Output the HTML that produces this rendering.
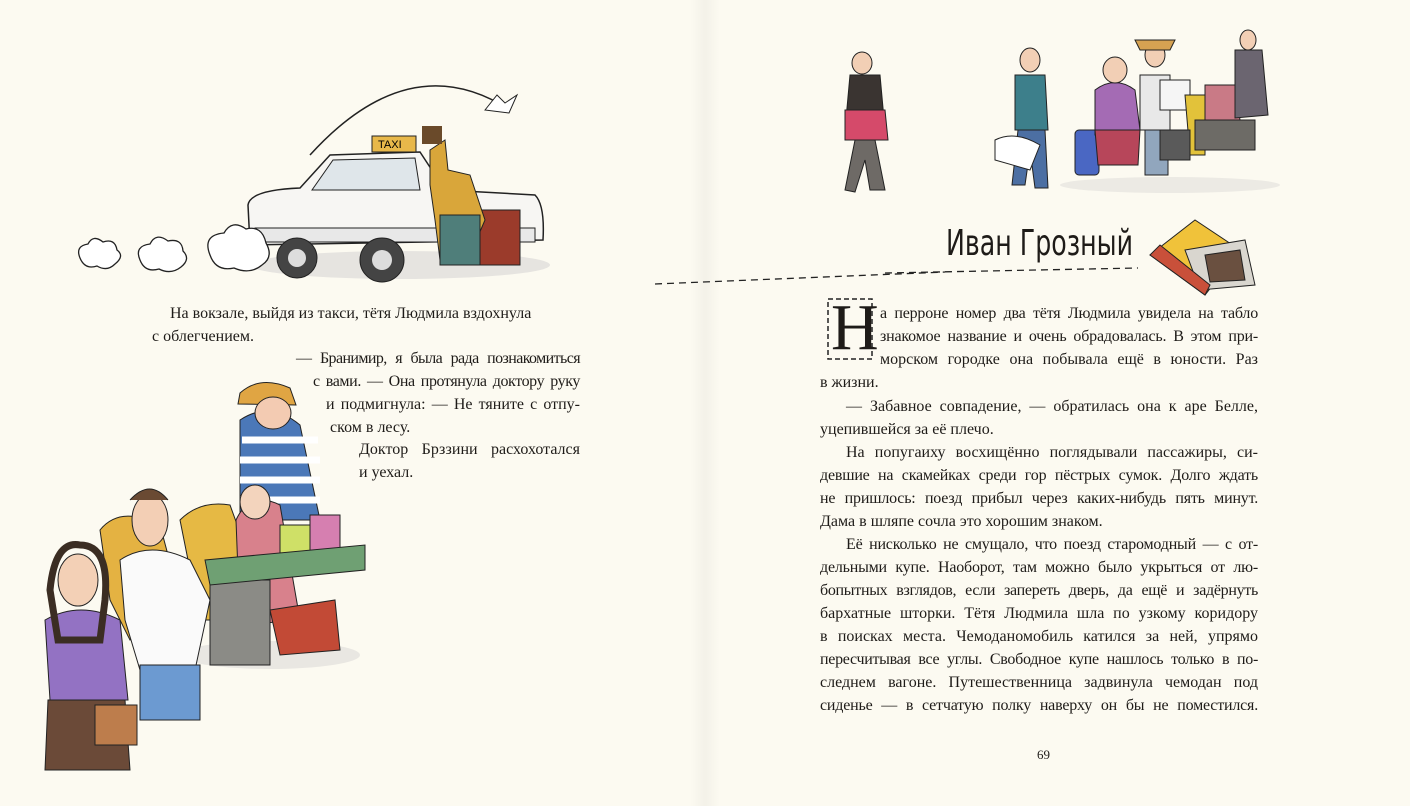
<!DOCTYPE html>
<html><head><meta charset="utf-8"><style>
html,body{margin:0;padding:0}
body{width:1410px;height:806px;background:#fcfaf1;position:relative;overflow:hidden;font-family:"Liberation Serif",serif;color:#1e1b18}
.l{position:absolute;font-size:16px;line-height:20px;white-space:nowrap}
.j{text-align:justify;text-align-last:justify;white-space:normal}
svg{position:absolute;left:0;top:0}
</style></head><body>
<div style="position:absolute;left:690px;top:0;width:30px;height:806px;background:linear-gradient(90deg,rgba(0,0,0,0),rgba(0,0,0,0.035),rgba(0,0,0,0))"></div>
<svg width="1410" height="806" viewBox="0 0 1410 806">
 <path d="M310 155 Q410 45 510 110" fill="none" stroke="#222" stroke-width="1.5"/>
 <path d="M485 110 l12 -15 l8 8 l12 -8 l-8 18 z" fill="#fff" stroke="#222"/>
 <ellipse cx="400" cy="265" rx="150" ry="14" fill="#e6e4e0"/>
 <path d="M248 205 Q250 190 300 188 L330 155 L420 152 L445 190 L535 195 Q545 205 543 240 L250 245 Z" fill="#f7f6f3" stroke="#222" stroke-width="1.5"/>
 <path d="M333 160 L415 158 L420 190 L312 190 Z" fill="#dfe6ea" stroke="#222"/>
 <rect x="372" y="136" width="44" height="16" fill="#e8b84a" stroke="#222"/>
 <text x="378" y="148" font-size="11" font-family="Liberation Sans">TAXI</text>
 <rect x="255" y="228" width="280" height="14" fill="#e8e8e8" stroke="#222"/>
 <circle cx="297" cy="258" r="20" fill="#444" stroke="#222"/><circle cx="297" cy="258" r="9" fill="#ddd"/>
 <circle cx="382" cy="260" r="22" fill="#444" stroke="#222"/><circle cx="382" cy="260" r="10" fill="#ddd"/>
 <rect x="470" y="210" width="50" height="55" fill="#9b3b2b" stroke="#222"/>
 <path d="M430 150 L445 140 L448 170 L470 175 L485 220 L470 255 L440 260 L435 220 L430 185 Z" fill="#d9a63a" stroke="#222"/>
 <rect x="440" y="215" width="40" height="50" fill="#4f7e7a" stroke="#222"/>
 <rect x="422" y="126" width="20" height="18" fill="#6a4a2a"/>
 <g fill="#fff" stroke="#222" stroke-width="1.3">
 <path d="M80 258 q-5 -12 8 -14 q5 -10 15 -2 q12 -4 14 8 q8 6 -2 14 q-8 8 -18 2 q-12 4 -17 -8z"/>
 <path d="M140 260 q-6 -14 10 -16 q6 -12 18 -3 q14 -3 15 10 q8 8 -2 16 q-10 8 -22 2 q-14 4 -19 -9z"/>
 <path d="M210 255 q-8 -20 14 -22 q8 -14 22 -4 q16 -4 20 14 q8 14 -4 22 q-12 10 -28 3 q-18 4 -24 -13z"/>
 </g>
 <ellipse cx="270" cy="655" rx="90" ry="14" fill="#e9e7e2"/>
 <path d="M180 520 Q200 500 230 505 L250 560 L240 620 L200 620 Z" fill="#e6b944" stroke="#222"/>
 <path d="M240 420 Q270 400 300 425 L320 520 L240 520 Z" fill="#4b78b8" stroke="#222"/>
 <path d="M242 440 h76 M240 460 h80 M240 480 h80 M240 500 h80" stroke="#fff" stroke-width="7"/>
 <path d="M240 393 Q260 375 290 388 L296 405 L238 404 Z" fill="#e0a543" stroke="#222"/>
 <ellipse cx="273" cy="413" rx="18" ry="16" fill="#f3cbb2" stroke="#222"/>
 <path d="M236 520 Q250 490 280 505 L300 620 L240 625 Z" fill="#d8818c" stroke="#222"/>
 <ellipse cx="255" cy="502" rx="15" ry="17" fill="#f3d4bd" stroke="#222"/>
 <rect x="280" y="525" width="35" height="45" fill="#cfe067" stroke="#222"/>
 <rect x="310" y="515" width="30" height="45" fill="#d67fb0" stroke="#222"/>
 <rect x="210" y="580" width="60" height="85" fill="#8b8b86" stroke="#222"/>
 <path d="M270 610 L335 600 L340 650 L280 655 Z" fill="#c24a36" stroke="#222"/>
 <path d="M205 560 L365 545 L365 570 L210 585 Z" fill="#6fa073" stroke="#222"/>
 <path d="M100 530 Q120 505 160 525 L180 600 L130 640 L110 600 Z" fill="#e4b242" stroke="#222"/>
 <path d="M120 560 Q150 540 190 560 L210 600 L195 670 L140 670 L125 620 Z" fill="#fafafa" stroke="#222"/>
 <rect x="140" y="665" width="60" height="55" fill="#6c9ad1" stroke="#222"/>
 <ellipse cx="150" cy="520" rx="18" ry="26" fill="#f3cfb5" stroke="#222"/>
 <path d="M130 500 Q150 478 168 500" fill="#6a4a33" stroke="#222"/>
 <path d="M45 620 Q80 600 120 620 L128 700 L50 700 Z" fill="#9372c3" stroke="#222"/>
 <path d="M48 700 L125 700 L130 770 L45 770 Z" fill="#6b4a38" stroke="#222"/>
 <ellipse cx="78" cy="580" rx="20" ry="26" fill="#f3d0b6" stroke="#222"/>
 <path d="M50 590 Q55 540 80 545 Q110 545 105 600 L100 640 L58 640 Z" fill="none" stroke="#3b2d23" stroke-width="7"/>
 <rect x="95" y="705" width="42" height="40" fill="#bd7d4c" stroke="#222"/>
 <g stroke="#222">
 <path d="M850 75 L880 75 L885 130 L845 130 Z" fill="#3a3431"/>
 <path d="M845 110 L885 110 L888 140 L845 140 Z" fill="#d54a6a"/>
 <path d="M855 140 L875 140 L885 190 L870 190 L865 160 L855 192 L845 190 Z" fill="#6e6a66"/>
 <ellipse cx="862" cy="63" rx="10" ry="11" fill="#f2cfb5"/>
 <path d="M1015 75 L1045 75 L1048 130 L1015 130 Z" fill="#3d7f8b"/>
 <path d="M1018 130 L1045 130 L1048 188 L1035 188 L1030 150 L1025 185 L1012 185 Z" fill="#4c6fa3"/>
 <ellipse cx="1030" cy="60" rx="10" ry="12" fill="#f2cfb5"/>
 <path d="M995 140 Q1015 130 1040 145 L1030 170 L995 160 Z" fill="#fff"/>
 <rect x="1075" y="130" width="24" height="45" rx="4" fill="#4a67c3"/>
 <path d="M1095 90 Q1115 75 1135 90 L1140 130 L1095 135 Z" fill="#a46bb4"/>
 <path d="M1095 130 L1140 130 L1138 165 L1098 165 Z" fill="#b7465a"/>
 <ellipse cx="1115" cy="70" rx="12" ry="13" fill="#f2cfb5"/>
 <path d="M1140 75 L1170 75 L1170 130 L1140 130 Z" fill="#e8e8e8"/>
 <path d="M1145 130 L1168 130 L1168 175 L1145 175 Z" fill="#91a6bd"/>
 <ellipse cx="1155" cy="55" rx="10" ry="12" fill="#f2cfb5"/>
 <path d="M1135 40 L1175 40 L1170 50 L1140 50 Z" fill="#d6a252"/>
 <rect x="1160" y="80" width="30" height="30" fill="#f5f5f5"/>
 <path d="M1185 95 L1205 95 L1205 155 L1190 155 Z" fill="#e2c23a"/>
 <path d="M1205 85 L1235 85 L1240 120 L1205 125 Z" fill="#c97a86"/>
 <rect x="1195" y="120" width="60" height="30" fill="#6d6b66"/>
 <path d="M1235 50 L1262 50 L1268 115 L1235 118 Z" fill="#6b6570"/>
 <ellipse cx="1248" cy="40" rx="8" ry="10" fill="#f2cfb5"/>
 <rect x="1160" y="130" width="30" height="30" fill="#5a5a5a"/>
 </g>
 <ellipse cx="1170" cy="185" rx="110" ry="8" fill="#eceae4"/>
 <g stroke="#222">
 <path d="M1150 255 L1195 220 L1240 250 L1205 295 Z" fill="#f0c23a"/>
 <path d="M1185 250 L1245 240 L1255 285 L1200 290 Z" fill="#d9d6cf"/>
 <path d="M1205 255 L1240 250 L1245 280 L1210 282 Z" fill="#6a5040"/>
 <path d="M1150 255 L1160 245 L1210 285 L1205 295 Z" fill="#c9503a"/>
 </g>
 <path d="M655 284 L945 272" stroke="#222" stroke-width="1.3" stroke-dasharray="7 5" fill="none"/>
 <path d="M885 273 L1138 268" stroke="#222" stroke-width="1.3" stroke-dasharray="7 5" fill="none"/>
 <rect x="828" y="299" width="44" height="60" fill="none" stroke="#222" stroke-width="1.5" stroke-dasharray="5 3"/>
</svg>
<div class="l" style="left:946px;top:222px;font-size:36px;line-height:44px;font-family:'DejaVu Sans Condensed','Liberation Sans Narrow',sans-serif;transform:scaleX(0.78);transform-origin:left">Иван Грозный</div>
<div class="l" style="left:831px;top:294px;font-size:66px;line-height:68px">Н</div>

<div class="l" style="left:170px;top:304px">На вокзале, выйдя из такси, тётя Людмила вздохнула</div>
<div class="l" style="left:152px;top:327px">с облегчением.</div>
<div class="l j" style="left:296px;top:349px;width:284px;letter-spacing:-0.6px;word-spacing:-1px">—&nbsp;Бранимир, я была рада познакомиться</div>
<div class="l j" style="left:313px;top:372px;width:267px;letter-spacing:-0.4px">с вами. —&nbsp;Она протянула доктору руку</div>
<div class="l j" style="left:326px;top:395px;width:254px">и подмигнула: —&nbsp;Не тяните с отпу-</div>
<div class="l" style="left:330px;top:418px">ском в лесу.</div>
<div class="l j" style="left:359px;top:440px;width:221px">Доктор Брззини расхохотался</div>
<div class="l" style="left:359px;top:463px">и уехал.</div>

<div class="l j" style="left:880px;top:304px;width:378px;letter-spacing:-0.2px">а перроне номер два тётя Людмила увидела на табло</div>
<div class="l j" style="left:880px;top:327px;width:378px;letter-spacing:-0.2px">знакомое название и очень обрадовалась. В этом при-</div>
<div class="l j" style="left:880px;top:350px;width:378px">морском городке она побывала ещё в юности. Раз</div>
<div class="l" style="left:820px;top:373px">в жизни.</div>
<div class="l j" style="left:846px;top:397px;width:412px">— Забавное совпадение, — обратилась она к аре Белле,</div>
<div class="l" style="left:820px;top:420px">уцепившейся за её плечо.</div>
<div class="l j" style="left:846px;top:443px;width:412px">На попугаиху восхищённо поглядывали пассажиры, си-</div>
<div class="l j" style="left:820px;top:466px;width:438px;letter-spacing:-0.2px">девшие на скамейках среди гор пёстрых сумок. Долго ждать</div>
<div class="l j" style="left:820px;top:489px;width:438px;letter-spacing:-0.2px">не пришлось: поезд прибыл через каких-нибудь пять минут.</div>
<div class="l" style="left:820px;top:512px">Дама в шляпе сочла это хорошим знаком.</div>
<div class="l j" style="left:846px;top:535px;width:412px;letter-spacing:-0.2px">Её нисколько не смущало, что поезд старомодный — с от-</div>
<div class="l j" style="left:820px;top:558px;width:438px;letter-spacing:-0.2px">дельными купе. Наоборот, там можно было укрыться от лю-</div>
<div class="l j" style="left:820px;top:581px;width:438px;letter-spacing:-0.3px">бопытных взглядов, если запереть дверь, да ещё и задёрнуть</div>
<div class="l j" style="left:820px;top:604px;width:438px">бархатные шторки. Тётя Людмила шла по узкому коридору</div>
<div class="l j" style="left:820px;top:627px;width:438px">в поисках места. Чемоданомобиль катился за ней, упрямо</div>
<div class="l j" style="left:820px;top:650px;width:438px;letter-spacing:-0.3px">пересчитывая все углы. Свободное купе нашлось только в по-</div>
<div class="l j" style="left:820px;top:673px;width:438px">следнем вагоне. Путешественница задвинула чемодан под</div>
<div class="l j" style="left:820px;top:696px;width:438px;letter-spacing:-0.2px">сиденье — в сетчатую полку наверху он бы не поместился.</div>
<div class="l" style="left:1037px;top:745px;font-size:13px">69</div>
</body></html>
